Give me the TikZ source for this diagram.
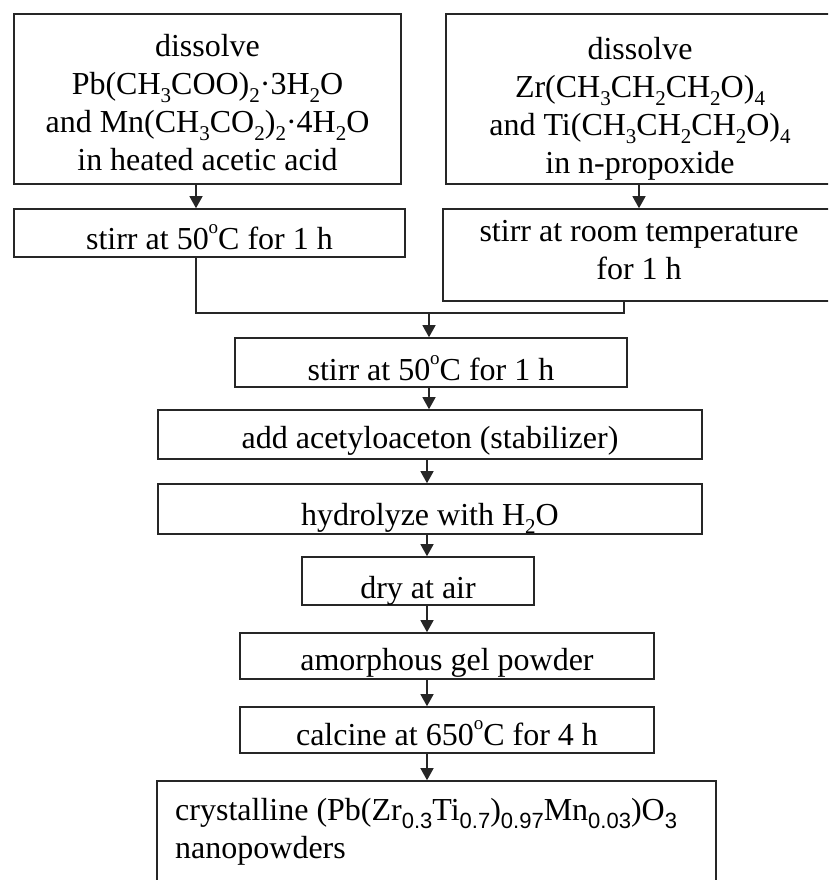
\documentclass[tikz,border=0pt]{standalone}
\usepackage{fontspec}
\setmainfont{Liberation Serif}
\newfontfamily\sansf{Liberation Sans}
\usetikzlibrary{arrows.meta}
\newcommand\sbs[1]{\raisebox{-0.28em}{\fontsize{21}{21}\selectfont #1}}
\newcommand\sbsf[1]{\raisebox{-0.28em}{\fontsize{22}{22}\selectfont\sansf #1}}
\newcommand\dg{\raisebox{0.5em}{\fontsize{19}{19}\selectfont o}}
\begin{document}
\begin{tikzpicture}[x=1pt,y=-1pt,
  box/.style={draw=black!85,line width=1.6pt,rectangle,inner sep=0pt},
  lbl/.style={anchor=base,inner sep=0pt,font=\fontsize{32}{38}\selectfont,align=center},
  arr/.style={draw=black!85,line width=1.3pt,-{Triangle[length=12pt,width=13pt]}},
  ln/.style={draw=black!85,line width=1.3pt}]
\useasboundingbox (0,0) rectangle (828,880);
\clip (0,0) rectangle (828,880);
\fill[white] (0,0) rectangle (828,880);
% boxes
\node[box,minimum width=387pt,minimum height=170pt] (b1) at (207.5,99) {};
\node[box,minimum width=388pt,minimum height=170pt] (b2) at (640,99) {};
\node[box,minimum width=391pt,minimum height=48pt] (s1) at (209.5,233) {};
\node[box,minimum width=392pt,minimum height=92pt] (s2) at (639,255) {};
\node[box,minimum width=392pt,minimum height=49pt] (c1) at (431,362.5) {};
\node[box,minimum width=544pt,minimum height=49pt] (c2) at (430,434.5) {};
\node[box,minimum width=544pt,minimum height=50pt] (c3) at (430,509) {};
\node[box,minimum width=232pt,minimum height=48pt] (c4) at (418,581) {};
\node[box,minimum width=414pt,minimum height=46pt] (c5) at (447,656) {};
\node[box,minimum width=414pt,minimum height=46pt] (c6) at (447,730) {};
\node[box,minimum width=559pt,minimum height=130pt] (c7) at (436.5,846) {};
% labels (anchor base = baseline of the last line)
\node[lbl] (t1) at (207.5,170) {dissolve\\Pb(CH\sbs{3}COO)\sbs{2}·3H\sbs{2}O\\and Mn(CH\sbs{3}CO\sbs{2})\sbs{2}·4H\sbs{2}O\\in heated acetic acid};
\node[lbl] (t2) at (640,173) {dissolve\\Zr(CH\sbs{3}CH\sbs{2}CH\sbs{2}O)\sbs{4}\\and Ti(CH\sbs{3}CH\sbs{2}CH\sbs{2}O)\sbs{4}\\in n-propoxide};
\node[lbl] (t3) at (209.5,249) {stirr at 50\dg C for 1 h};
\node[lbl] (t4) at (639,279) {stirr at room temperature\\for 1 h};
\node[lbl] (t5) at (431,380) {stirr at 50\dg C for 1 h};
\node[lbl] (t6) at (430,448) {add acetyloaceton (stabilizer)};
\node[lbl] (t7) at (430,525) {hydrolyze with H\sbs{2}O};
\node[lbl] (t8) at (418,598) {dry at air};
\node[lbl] (t9) at (447,670) {amorphous gel powder};
\node[lbl] (t10) at (447,745) {calcine at 650\dg C for 4 h};
\node[lbl,anchor=base west,align=left] (t11) at (175,858) {crystalline (Pb(Zr\sbsf{0.3}Ti\sbsf{0.7})\sbsf{0.97}Mn\sbsf{0.03})O\sbsf{3}\\nanopowders};
% connectors
\coordinate (axL) at (196,0);
\coordinate (axR) at (639,0);
\coordinate (axM) at (624,0);
\coordinate (mg) at (429,313);
\coordinate (ax) at (427,0);
\draw[arr] (b1.south -| axL) -- (s1.north -| axL);
\draw[arr] (b2.south -| axR) -- (s2.north -| axR);
\draw[ln] (s1.south -| axL) |- (mg) -| (s2.south -| axM);
\draw[arr] (mg) -- (c1.north -| mg);
\draw[arr] (c1.south -| mg) -- (c2.north -| mg);
\draw[arr] (c2.south -| ax) -- (c3.north -| ax);
\draw[arr] (c3.south -| ax) -- (c4.north -| ax);
\draw[arr] (c4.south -| ax) -- (c5.north -| ax);
\draw[arr] (c5.south -| ax) -- (c6.north -| ax);
\draw[arr] (c6.south -| ax) -- (c7.north -| ax);
\end{tikzpicture}
\end{document}
